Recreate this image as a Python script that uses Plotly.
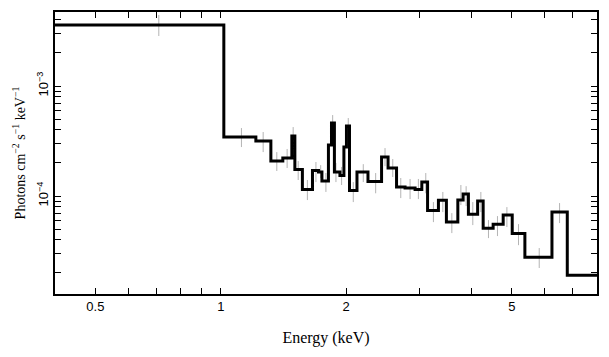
import plotly.graph_objects as go

# Model step: bin edges (keV) and model values (photons cm^-2 s^-1 keV^-1)
bin_edges = [0.40, 1.017, 1.214, 1.319, 1.409, 1.481, 1.506, 1.570, 1.660, 1.716,
             1.749, 1.813, 1.844, 1.874, 1.932, 1.975, 2.003, 2.037, 2.123, 2.256,
             2.432, 2.521, 2.642, 2.769, 2.927, 3.038, 3.136, 3.330, 3.480, 3.707,
             3.817, 3.930, 4.136, 4.264, 4.506, 4.763, 5.007, 5.370, 6.237, 6.788, 8.0]
model_vals = [3.585e-3, 3.44e-4, 3.16e-4, 2.08e-4, 2.22e-4, 3.51e-4, 1.74e-4, 1.146e-4,
              1.705e-4, 1.652e-4, 1.369e-4, 2.91e-4, 4.61e-4, 1.652e-4, 1.536e-4, 2.79e-4,
              4.33e-4, 1.122e-4, 1.652e-4, 1.354e-4, 2.26e-4, 1.797e-4, 1.207e-4, 1.182e-4,
              1.146e-4, 1.341e-4, 7.38e-5, 9.14e-5, 5.80e-5, 9.20e-5, 1.043e-4, 6.82e-5,
              9.01e-5, 5.09e-5, 5.54e-5, 6.72e-5, 4.58e-5, 2.78e-5, 7.15e-5, 1.91e-5]

# Data error bars: energy, upper and lower bound
data_energy = [0.71, 1.121, 1.264, 1.363, 1.443, 1.492, 1.534, 1.614, 1.692, 1.737,
               1.788, 1.856, 1.890, 1.950, 2.023, 2.080, 2.198, 2.354, 2.479, 2.587,
               2.704, 2.847, 2.981, 3.105, 3.239, 3.412, 3.586, 3.770, 3.881, 4.027,
               4.210, 4.391, 4.615, 4.862, 5.184, 5.813, 6.505]
data_hi = [4.42e-3, 4.15e-4, 3.82e-4, 2.51e-4, 2.68e-4, 4.24e-4, 2.08e-4, 1.40e-4, 2.04e-4, 1.91e-4,
           1.62e-4, 5.45e-4, 2.00e-4, 1.84e-4, 5.12e-4, 1.34e-4, 1.95e-4, 1.62e-4, 2.73e-4, 2.17e-4,
           1.46e-4, 1.43e-4, 1.43e-4, 1.62e-4, 8.82e-5, 1.09e-4, 7.00e-5, 1.26e-4, 1.23e-4, 8.82e-5,
           1.09e-4, 6.05e-5, 6.58e-5, 7.94e-5, 5.56e-5, 3.37e-5, 8.64e-5]
data_lo = [2.85e-3, 2.79e-4, 2.51e-4, 1.69e-4, 1.80e-4, 2.79e-4, 1.40e-4, 9.20e-5, 1.34e-4, 1.46e-4,
           1.09e-4, 3.23e-4, 1.34e-4, 1.26e-4, 3.23e-4, 8.82e-5, 1.34e-4, 1.06e-4, 1.87e-4, 1.49e-4,
           9.59e-5, 9.39e-5, 9.39e-5, 1.06e-4, 5.80e-5, 7.15e-5, 4.61e-5, 8.28e-5, 8.11e-5, 5.45e-5,
           7.15e-5, 4.15e-5, 4.33e-5, 5.23e-5, 3.58e-5, 2.22e-5, 5.68e-5]

x_tickvals = [0.5, 1, 2, 5]
x_ticktext = ["0.5", "1", "2", "5"]
x_minor = [0.4, 0.6, 0.7, 0.8, 0.9, 3, 4, 6, 7, 8]
y_tickvals = [1e-4, 1e-3]
y_ticktext = ["10<sup>−4</sup>", "10<sup>−3</sup>"]
y_minor = [2e-5, 3e-5, 4e-5, 5e-5, 6e-5, 7e-5, 8e-5, 9e-5,
           2e-4, 3e-4, 4e-4, 5e-4, 6e-4, 7e-4, 8e-4, 9e-4, 2e-3, 3e-3, 4e-3]

fig = go.Figure()

# error bars as vertical segments
ex, ey = [], []
for e, lo, hi in zip(data_energy, data_lo, data_hi):
    ex += [e, e, None]
    ey += [lo, hi, None]
fig.add_trace(go.Scatter(x=ex, y=ey, mode="lines",
                         line=dict(color="#b4b4b4", width=1), hoverinfo="skip",
                         showlegend=False))

# model step
sx = list(bin_edges)
sy = list(model_vals) + [model_vals[-1]]
fig.add_trace(go.Scatter(x=sx, y=sy, mode="lines", line_shape="hv",
                         line=dict(color="black", width=3), showlegend=False))

axis_common = dict(showline=True, linecolor="black", linewidth=1.5, mirror="ticks",
                   ticks="inside", ticklen=6, tickwidth=1.2, tickcolor="black",
                   showgrid=False, zeroline=False, automargin=False)

fig.update_xaxes(type="log", range=[-0.39794, 0.90309], tickvals=x_tickvals,
                 ticktext=x_ticktext,
                 tickfont=dict(family="Liberation Sans, Arial", size=13, color="black"),
                 title=dict(text="Energy (keV)", standoff=18,
                            font=dict(family="Liberation Serif, Times New Roman", size=16,
                                      color="black")),
                 minor=dict(tickvals=x_minor, ticks="inside", ticklen=6, tickwidth=1.2,
                            tickcolor="black", showgrid=False),
                 **axis_common)

fig.update_yaxes(type="log", range=[-4.89, -2.327], tickvals=y_tickvals,
                 ticktext=y_ticktext, tickangle=-90,
                 tickfont=dict(family="Liberation Sans, Arial", size=13, color="black"),
                 title=dict(text="Photons cm<sup>−2</sup> s<sup>−1</sup> keV<sup>−1</sup>",
                            standoff=6,
                            font=dict(family="Liberation Serif, Times New Roman", size=14,
                                      color="black")),
                 minor=dict(tickvals=y_minor, ticks="inside", ticklen=6, tickwidth=1.2,
                            tickcolor="black", showgrid=False),
                 **axis_common)

# page body has an 8px margin, so the figure is sized to fit the 609x357 window
fig.update_layout(width=601, height=349, margin=dict(l=47, r=12, t=4, b=63),
                  plot_bgcolor="white", paper_bgcolor="white")

fig.write_html("out.html")
